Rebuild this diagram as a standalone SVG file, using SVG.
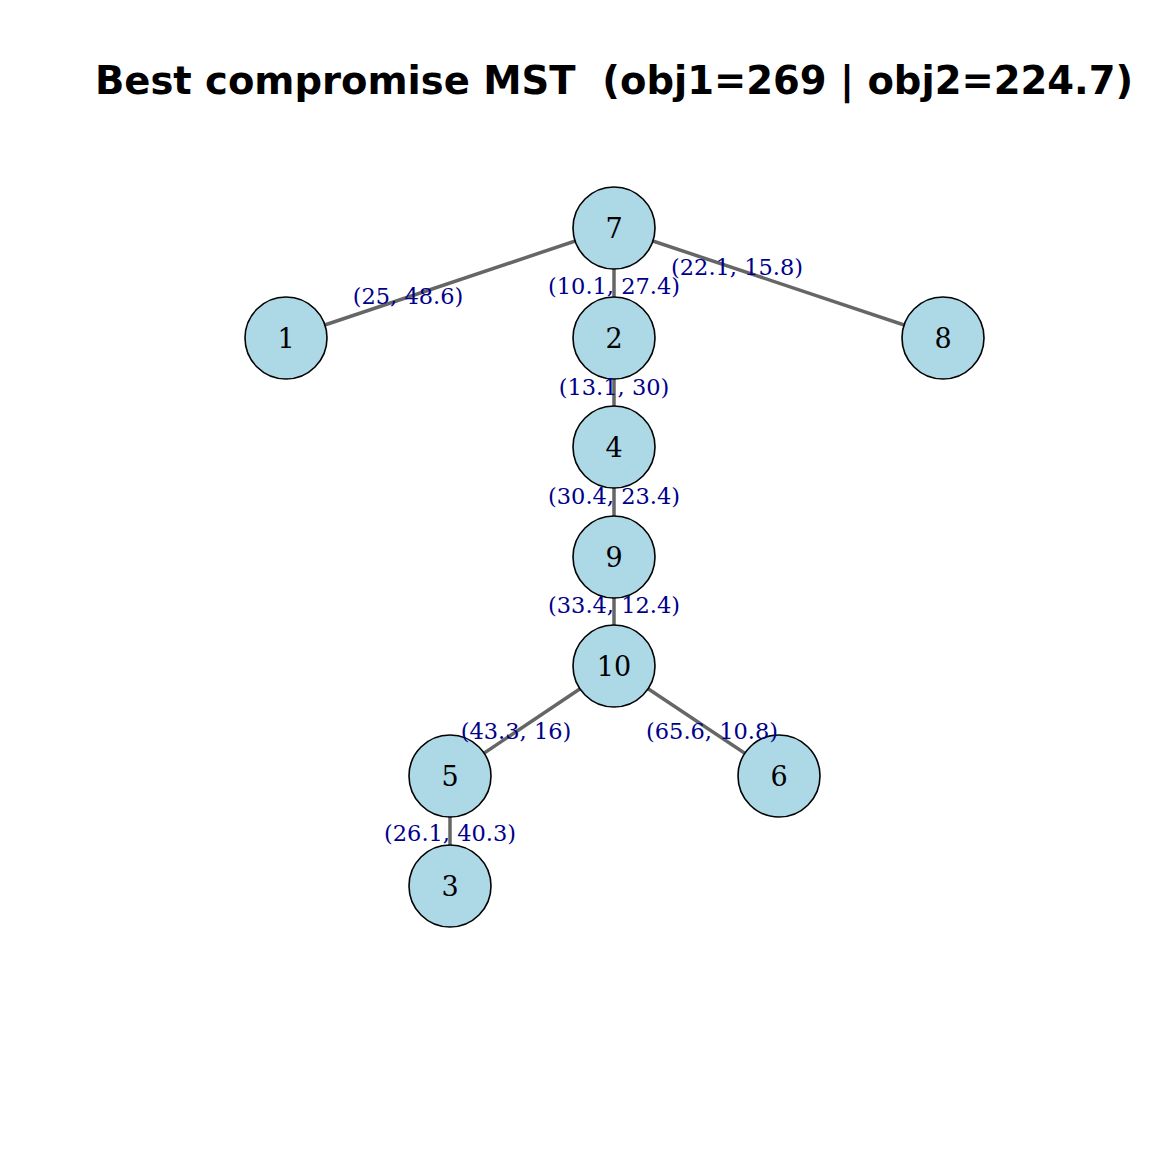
<svg xmlns="http://www.w3.org/2000/svg" width="1152" height="1152" viewBox="0 0 1152 1152">
<style>
.title{font-family:"DejaVu Sans",sans-serif;font-weight:bold;font-size:38.5px;fill:#000;text-anchor:middle;white-space:pre}
.node circle{fill:#ADD8E6;stroke:#000;stroke-width:1.6}
.node text{font-family:"DejaVu Serif",serif;font-size:27px;fill:#000;text-anchor:middle}
.edges line{stroke:#666666;stroke-width:3.5}
.elabel{font-family:"DejaVu Serif",serif;font-size:22.5px;fill:#00008B;text-anchor:middle}
</style>
<rect width="1152" height="1152" fill="#fff"/>
<text class="title" x="614" y="94" xml:space="preserve">Best compromise MST  (obj1=269 | obj2=224.7)</text>
<g id="edges" class="edges">
<line x1="614" y1="228" x2="286" y2="338"/>
<line x1="614" y1="228" x2="614" y2="338"/>
<line x1="614" y1="228" x2="943" y2="338"/>
<line x1="614" y1="338" x2="614" y2="447"/>
<line x1="614" y1="447" x2="614" y2="557"/>
<line x1="614" y1="557" x2="614" y2="666"/>
<line x1="614" y1="666" x2="450" y2="776"/>
<line x1="614" y1="666" x2="779" y2="776"/>
<line x1="450" y1="776" x2="450" y2="886"/>
</g>
<g id="node7" class="node"><circle cx="614" cy="228" r="41"/><text x="614" y="238">7</text></g>
<g id="node1" class="node"><circle cx="286" cy="338" r="41"/><text x="286" y="348">1</text></g>
<g id="node2" class="node"><circle cx="614" cy="338" r="41"/><text x="614" y="348">2</text></g>
<g id="node8" class="node"><circle cx="943" cy="338" r="41"/><text x="943" y="348">8</text></g>
<g id="node4" class="node"><circle cx="614" cy="447" r="41"/><text x="614" y="457">4</text></g>
<g id="node9" class="node"><circle cx="614" cy="557" r="41"/><text x="614" y="567">9</text></g>
<g id="node10" class="node"><circle cx="614" cy="666" r="41"/><text x="614" y="676">10</text></g>
<g id="node5" class="node"><circle cx="450" cy="776" r="41"/><text x="450" y="786">5</text></g>
<g id="node6" class="node"><circle cx="779" cy="776" r="41"/><text x="779" y="786">6</text></g>
<g id="node3" class="node"><circle cx="450" cy="886" r="41"/><text x="450" y="896">3</text></g>
<g id="edge-labels">
<text class="elabel" x="408" y="304">(25, 48.6)</text>
<text class="elabel" x="614" y="294">(10.1, 27.4)</text>
<text class="elabel" x="737" y="275">(22.1, 15.8)</text>
<text class="elabel" x="614" y="395">(13.1, 30)</text>
<text class="elabel" x="614" y="504">(30.4, 23.4)</text>
<text class="elabel" x="614" y="613">(33.4, 12.4)</text>
<text class="elabel" x="516" y="739">(43.3, 16)</text>
<text class="elabel" x="712" y="739">(65.6, 10.8)</text>
<text class="elabel" x="450" y="841">(26.1, 40.3)</text>
</g>
</svg>
